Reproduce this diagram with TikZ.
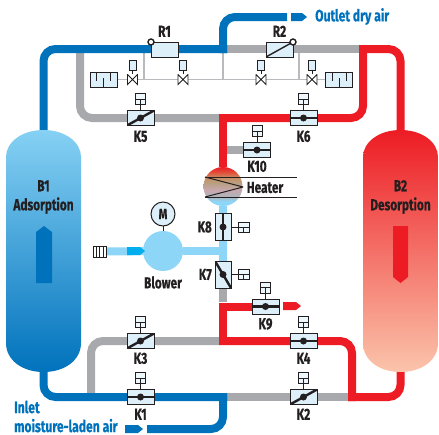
\documentclass[tikz,border=0pt]{standalone}
\usepackage{fontspec}
\usepackage{amsmath}
\usetikzlibrary{positioning,backgrounds}
\newfontfamily\lblfont[FakeStretch=0.74,BoldFeatures={FakeBold=0.5}]{Fira Sans}
\definecolor{pblue}{HTML}{0072BC}
\definecolor{pred}{HTML}{ED1C24}
\definecolor{pgrey}{HTML}{A7A9AC}
\definecolor{plight}{HTML}{8DD6F7}
\definecolor{pcyan}{HTML}{00AEEF}
\definecolor{vfill}{HTML}{DDF0FA}
\definecolor{ink}{HTML}{231F20}
\definecolor{ppeach}{HTML}{FBC4AB}
\definecolor{hgrey}{HTML}{AEB4BC}
\definecolor{hmauve}{HTML}{C8A8B0}
\definecolor{htan}{HTML}{B8A080}
\definecolor{hbrown}{HTML}{CC8A60}
\definecolor{horange}{HTML}{E2503A}
\pgfdeclareverticalshading{heatershade}{100bp}{color(0bp)=(plight); color(25bp)=(plight);
  color(31bp)=(plight); color(37bp)=(hgrey); color(45bp)=(hmauve); color(55bp)=(htan);
  color(62bp)=(hbrown); color(68bp)=(horange); color(75bp)=(pred); color(100bp)=(pred)}
\newcommand{\pbb}{path picture bounding box}
\begin{document}
\begin{tikzpicture}
        [x=1pt,y=-1pt,
        p/.style={line width=8pt,line join=miter},
        thin pipe/.style={line width=1.6pt,pgrey!80},
        v/.style={rectangle,draw=ink,line width=1pt,fill=vfill,minimum width=27pt,minimum height=15pt,inner sep=0pt,outer sep=0pt},
        w/.style={v,minimum width=16pt,minimum height=27pt},
        bar/.style={line width=2.4pt,ink},
        vh/.style={v,path picture={\draw[bar](\pbb.west)--(\pbb.east);\fill[ink](\pbb.center) circle (3.5);}},
        vd/.style={v,path picture={\draw[bar](\pbb.south west)--(\pbb.north east);\fill[ink](\pbb.center) circle (3.5);}},
        vv/.style={w,path picture={\draw[bar](\pbb.north)--(\pbb.south);\fill[ink](\pbb.center) circle (3.5);}},
        vb/.style={w,path picture={\draw[bar](\pbb.north west)--(\pbb.south east);\fill[ink](\pbb.center) circle (3.5);}},
        act/.style={rectangle,draw=ink,line width=1pt,fill=vfill!50,minimum width=10pt,minimum height=11pt,inner sep=0pt,outer sep=0pt,
          path picture={\draw[line width=.8pt,ink](\pbb.west)--(\pbb.east) (\pbb.center)--(\pbb.south);}},
        sb/.style={rectangle,draw=ink,line width=.8pt,fill=vfill,minimum width=7pt,minimum height=10pt,inner sep=0pt,outer sep=0pt},
        bt/.style={rectangle,minimum width=11pt,minimum height=11pt,inner sep=0pt,outer sep=0pt,
          path picture={\draw[line width=.9pt,ink,fill=white]([shift={(.5,.5)}]\pbb.north west)--([shift={(-.5,-.5)}]\pbb.south east)--([shift={(-.5,.5)}]\pbb.north east)--([shift={(.5,-.5)}]\pbb.south west)--cycle;}},
        gauge/.style={v,path picture={\draw[line width=.8pt,ink]
          ([xshift=-7pt]\pbb.north)--++(0,9) (\pbb.south)--++(0,-9) ([xshift=7pt]\pbb.north)--++(0,9);}},
        filt/.style={rectangle,draw=ink,line width=.8pt,fill=white,minimum width=13pt,minimum height=11pt,inner sep=0pt,outer sep=0pt,
          path picture={\foreach \i in {-3.5,0,3.5}{\draw[line width=.7pt,ink]([xshift=\i pt]\pbb.north)--([xshift=\i pt]\pbb.south);}}},
        t/.style={font=\lblfont\bfseries\fontsize{16}{19}\selectfont,text=ink,inner sep=0pt,align=center},
        b/.style={font=\lblfont\bfseries\fontsize{16.4}{19}\selectfont,text=pblue,inner sep=0pt,align=left},
        ro/.style={circle,draw=ink,line width=1.4pt,fill=white,minimum size=6pt,inner sep=0pt,outer sep=0pt}]
        \useasboundingbox (0,0) rectangle (439,434);
        % vessels
        \shade[top color=plight!95!pblue,bottom color=pblue] (6,157) .. controls (6,142) and (22,130) .. (43.5,130)
          .. controls (65,130) and (81,142) .. (81,157) -- (81,343) .. controls (81,360) and (65,372) .. (43.5,372)
          .. controls (22,372) and (6,360) .. (6,343) -- cycle;
        \shade[top color=pred,bottom color=ppeach] (363,157) .. controls (363,142) and (379,130) .. (400.5,130)
          .. controls (422,130) and (438,142) .. (438,157) -- (438,343) .. controls (438,360) and (422,372) .. (400.5,372)
          .. controls (379,372) and (363,360) .. (363,343) -- cycle;
        \fill[pblue] (36,283) -- (36,232) -- (44,226) -- (52,232) -- (52,283) -- cycle;
        \fill[pred] (393,226) -- (393,277) -- (400.5,283) -- (408,277) -- (408,226) -- cycle;
        \node[t](b1) at (43.5,197){B1\\Adsorption};
        \node[t](b2) at (400.5,197){B2\\Desorption};
        \coordinate (b1t) at (43.5,131);
        \coordinate (b1b) at (43.5,371);
        \coordinate (b2t) at (400.5,131);
        \coordinate (b2b) at (400.5,371);
        % valves
        \node[v](r1) at (164.5,49.5){};
        \node[v,path picture={\draw[line width=1.4pt,ink](\pbb.south west)--(\pbb.north east);}](r2) at (279.5,49.5){};
        \node[ro](r1p) at (r1.north west){};
        \node[ro](r2p) at (r2.north east){};
        \node[t](r1l)[above=5pt of r1]{R1};
        \node[t](r2l)[above=5pt of r2]{R2};
        \node[vd](k5) at (140.5,118){};
        \node[vh](k6)[right=136pt of k5]{};
        \node[vh](k10) at (257,150){};
        \node[vh](k1) at (140.5,397){};
        \node[vd](k3)[above=41pt of k1]{};
        \node[vd](k2)[right=136pt of k1]{};
        \node[vh](k4)[above=41pt of k2]{};
        \node[vh](k9) at (265.5,306.5){};
        \node[vv](k8) at (223,227){};
        \node[vb](k7) at (223,274.5){};
        \node[act](k5a)[above=6pt of k5]{};
        \node[act](k6a)[above=6pt of k6]{};
        \node[act](k10a)[above=6pt of k10]{};
        \node[act](k1a)[above=6pt of k1]{};
        \node[act](k2a)[above=6pt of k2]{};
        \node[act](k3a)[above=6pt of k3]{};
        \node[act](k4a)[above=6pt of k4]{};
        \node[act](k9a)[above=6pt of k9]{};
        \node[act,rotate=-90,anchor=south](k8a) at ([xshift=7pt]k8.east){};
        \node[act,rotate=-90,anchor=south](k7a) at ([xshift=7pt]k7.east){};
        \node[t](k5l)[below=5pt of k5]{K5};
        \node[t](k6l)[below=5pt of k6]{K6};
        \node[t](k10l)[below=3pt of k10]{K10};
        \node[t](k1l)[below=4pt of k1]{K1};
        \node[t](k2l)[below=4pt of k2]{K2};
        \node[t](k3l)[below=4pt of k3]{K3};
        \node[t](k4l)[below=4pt of k4]{K4};
        \node[t](k9l)[below=4pt of k9]{K9};
        \node[t](k8l)[left=3pt of k8]{K8};
        \node[t](k7l)[left=3pt of k7]{K7};
        % purge branch
        \node[bt](s1) at (132.5,79.5){};
        \node[bt](s2) at (183,79.5){};
        \node[bt](s3) at (261,79.5){};
        \node[bt](s4) at (312,79.5){};
        \node[sb](s1a)[above=4pt of s1]{};
        \node[sb](s2a)[above=4pt of s2]{};
        \node[sb](s3a)[above=4pt of s3]{};
        \node[sb](s4a)[above=4pt of s4]{};
        \node[gauge](g1)[left=10pt of s1]{};
        \node[gauge](g2)[right=8pt of s4]{};
        % heater and blower
        \node[circle,minimum size=39pt,inner sep=0pt,outer sep=0pt,shade,shading=heatershade](heat) at (223,186.5){};
        \coordinate (hl1) at (205,177);
        \coordinate (hl2) at (205,197);
        \coordinate (hm) at (243,187);
        \coordinate (hr1) at (297,177);
        \coordinate (hr2) at (297,197);
        \node[t](heatl) at (265,187.5){Heater};
        \node[circle,fill=plight,minimum size=40pt,inner sep=0pt,outer sep=0pt](blow) at (163,251){};
        \node[circle,draw=ink,line width=1pt,fill=vfill,minimum size=24pt,inner sep=0pt,outer sep=0pt,font=\lblfont\bfseries\fontsize{15}{16}\selectfont,text=ink](m)[above=5pt of blow]{M};
        \node[t](blowl)[below=5pt of blow]{Blower};
        \node[filt](fil) at (99.5,251.5){};
        % texts
        \node[b,anchor=west](outlet) at (315,16.5){Outlet dry air};
        \node[b,anchor=west](inlet) at (14,416.5){Inlet\\moisture-laden air};
        % fixed points of the pipes
        \coordinate (a) at (223,17);
        \coordinate (o) at (287,17);
        \coordinate (c) at (223,49);
        \coordinate (d) at (223,53);
        \coordinate (e) at (227,49);
        \coordinate (f) at (359,49);
        \coordinate (g) at (363,45);
        \coordinate (h) at (219,118);
        \coordinate (i) at (223,114);
        \coordinate (j) at (80,45);
        \coordinate (l) at (223,251);
        \coordinate (n) at (219,341);
        \coordinate (q) at (223,302);
        \coordinate (u) at (223,345);
        \coordinate (w) at (91,393);
        \coordinate (y) at (227,397);
        \coordinate (z) at (348,397);
        \coordinate (aa) at (352,401);
        \coordinate (ab) at (223,393);
        \coordinate (ac) at (147,429);
        \coordinate (ad) at (223,150);
        \coordinate (t1) at (144,53);
        \coordinate (t2) at (144,79.5);
        \coordinate (t3) at (299,53);
        \coordinate (t4) at (299,79.5);
        \coordinate (t5) at (223,79.5);
        \begin{scope}[on background layer]
        \path[thin pipe](t1) edge (t2)
                    (t3) edge (t4)
                    (d) edge (t5)
                    (g1) edge (g2);
        \draw[p,pgrey,rounded corners=12pt](j) |- (h);
        \draw[p,pgrey,rounded corners=12pt](n) -| (w);
        \path[p,pgrey](e) edge (f)
                    (y) edge (z)
                    (k7) edge (q)
                    (ad) edge (k10);
        \draw[p,plight](heat) -- (k7);
        \path[p,plight](blow) edge (l)
                    (fil) edge (blow);
        \draw[p,pblue,rounded corners=12pt](b1t) |- (e);
        \draw[p,pblue,rounded corners=12pt](d) |- (o);
        \draw[p,pblue,rounded corners=12pt](b1b) |- (y);
        \draw[p,pblue,rounded corners=12pt](ab) |- (ac);
        \draw[p,pred,rounded corners=12pt](b2t) |- (f);
        \draw[p,pred,rounded corners=12pt](g) |- (h);
        \draw[p,pred](i) -- (heat);
        \draw[p,pred](k9) -| (u);
        \draw[p,pred,rounded corners=12pt](n) -| (aa);
        \draw[p,pred,rounded corners=12pt](b2b) |- (z);
        \end{scope}
        % arrow heads of the pipes
        \fill[pblue] (291,13) -- (302,13) -- (307,17) -- (302,21) -- (291,21) -- cycle;
        \fill[pblue] (125,425) -- (138,425) -- (143,429) -- (138,433) -- (125,433) -- cycle;
        \fill[pred] (283,302) -- (296,302) -- (301,306) -- (296,310) -- (283,310) -- cycle;
        \fill[pcyan] (127,247) -- (140,247) -- (145,251) -- (140,255) -- (127,255) -- cycle;
        % stems and heater lines
        \path[-,draw=ink,line width=1pt](k5) edge (k5a)
                    (k6) edge (k6a)
                    (k10) edge (k10a)
                    (k1) edge (k1a)
                    (k2) edge (k2a)
                    (k3) edge (k3a)
                    (k4) edge (k4a)
                    (k9) edge (k9a)
                    (k8) edge (k8a)
                    (k7) edge (k7a)
                    (m) edge (blow)
                    (s1) edge (s1a)
                    (s2) edge (s2a)
                    (s3) edge (s3a)
                    (s4) edge (s4a)
                    (hl1) edge (hr1)
                    (hl2) edge (hr2)
                    (hl1) edge (hm)
                    (hl2) edge (hm);
\end{tikzpicture}
\end{document}
